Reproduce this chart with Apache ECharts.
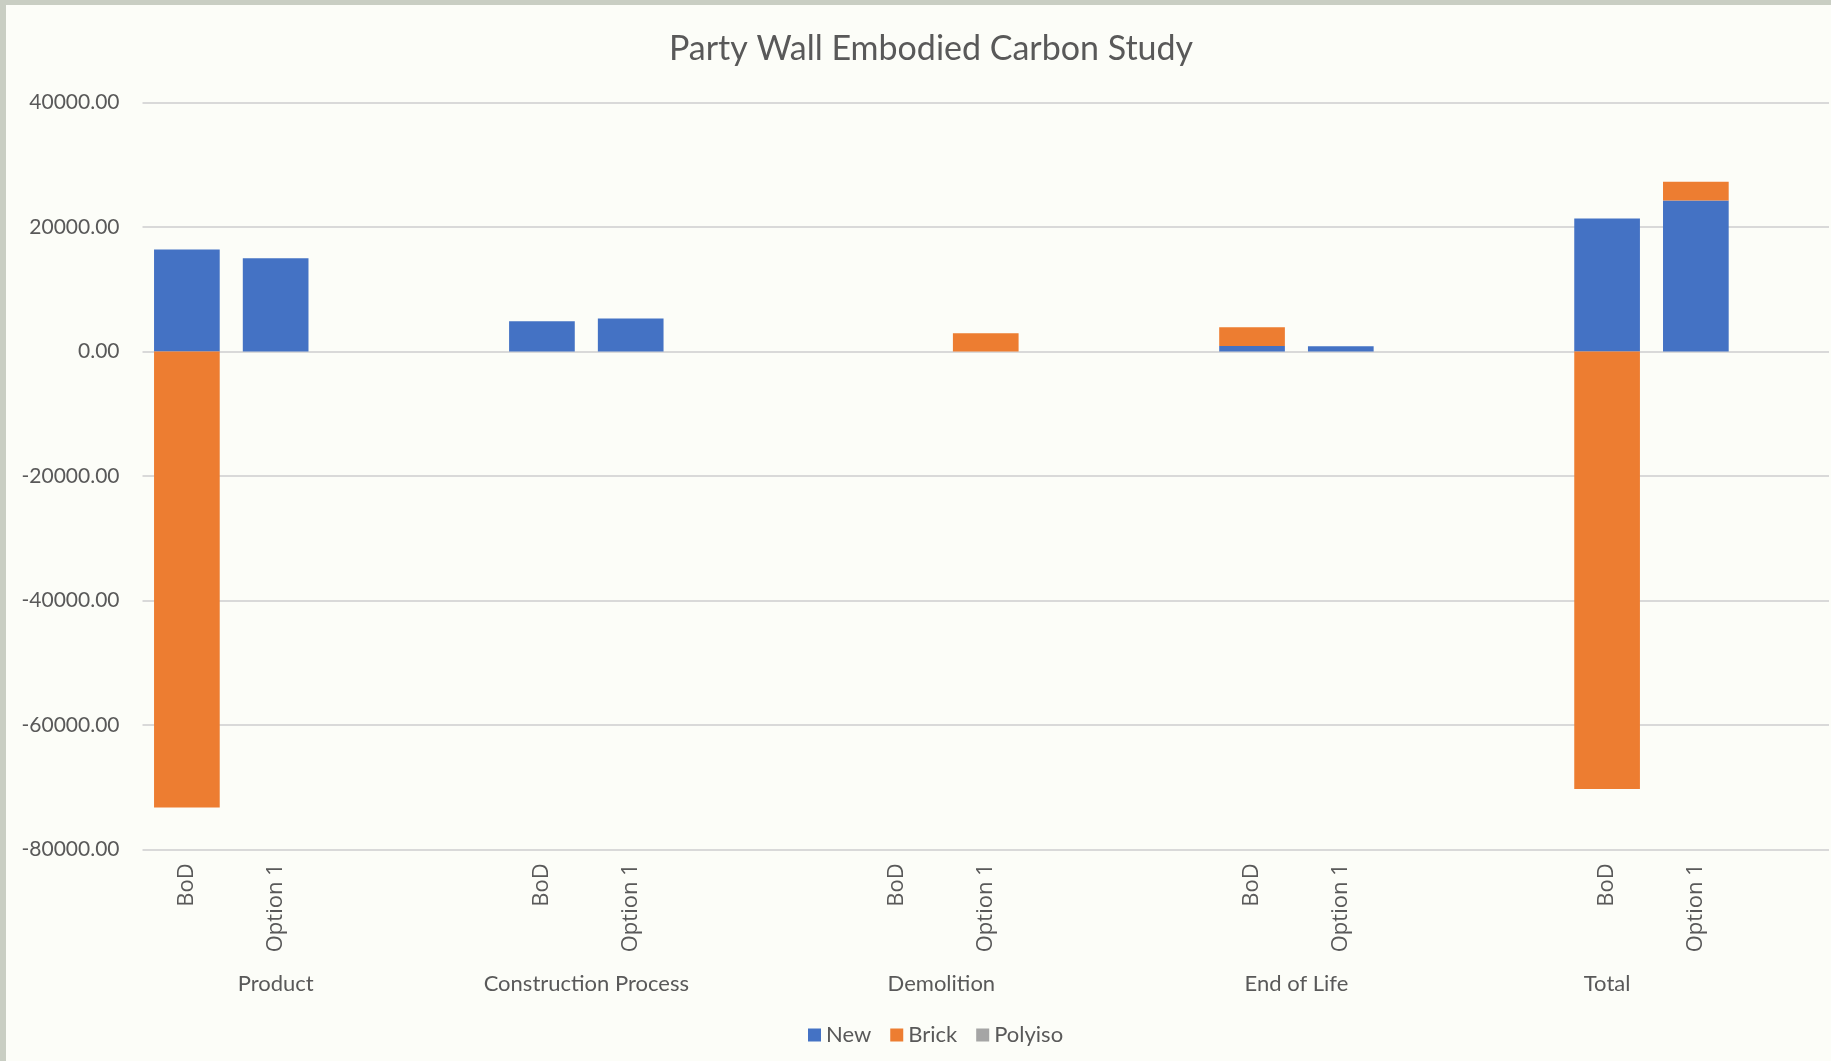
<!DOCTYPE html>
<html>
<head>
<meta charset="utf-8">
<script src="https://cdn.jsdelivr.net/npm/echarts@6/dist/echarts.min.js"></script>
<style>
  html, body { margin: 0; padding: 0; background: #cbd0c5; }
  #chart {
    position: absolute; left: 0; top: 0;
    width: 1831px; height: 1061px;
    box-sizing: border-box;
    border-left: 6px solid #c9cec3;
    border-top: 5px solid #c9cec3;
    background: #fcfdf8;
  }
</style>
</head>
<body>
<div id="chart"></div>
<script>
// ---- Data ----
const titleText = 'Party Wall Embodied Carbon Study';
const subLabels = ['BoD', 'Option 1', '', '', 'BoD', 'Option 1', '', '', 'BoD', 'Option 1', '', '', 'BoD', 'Option 1', '', '', 'BoD', 'Option 1', ''];
const groupLabels = ['Product', 'Construction Process', 'Demolition', 'End of Life', 'Total'];
const groupSpans = [3, 4, 4, 4, 3];
const newValues     = [16400, 15000, null, null, 4870, 5300, null, null, 0, 0, null, null, 900, 850, null, null, 21400, 24300, null];
const brickValues   = [-73300, 0, null, null, 0, 0, null, null, 0, 2950, null, null, 3000, 0, null, null, -70300, 3000, null];
const polyisoValues = [0, 0, null, null, 0, 0, null, null, 0, 0, null, null, 0, 0, null, null, 0, 0, null];
const yTicks = [-80000, -60000, -40000, -20000, 0, 20000, 40000];

// group label centers in category-slot units
const groupCenters = [];
let start = 0;
groupSpans.forEach(s => { groupCenters.push(start + s / 2); start += s; });

const textColor = '#595959';
const chart = echarts.init(document.getElementById('chart'));
chart.setOption({
  backgroundColor: '#fcfdf8',
  animation: false,
  title: {
    text: titleText,
    left: 920,
    textAlign: 'center',
    top: 22,
    textStyle: { fontFamily: 'Lato', fontSize: 34, fontWeight: 'normal', color: textColor }
  },
  legend: {
    data: ['New', 'Brick', 'Polyiso'],
    left: 797,
    top: 1014,
    itemWidth: 13,
    itemHeight: 13,
    itemGap: 19,
    icon: 'rect',
    textStyle: { fontFamily: 'Lato', fontSize: 22, color: textColor }
  },
  grid: { left: 136.5, right: 2, top: 97.7, bottom: 211.7, containLabel: false },
  xAxis: [
    {
      type: 'category',
      data: subLabels,
      axisLine: { show: false },
      axisTick: { show: false },
      axisLabel: {
        interval: 0, rotate: 90, margin: 14,
        fontFamily: 'Open Sans', fontSize: 22, color: textColor
      }
    },
    {
      type: 'value',
      min: 0,
      max: subLabels.length,
      position: 'bottom',
      axisLine: { show: false },
      axisTick: { show: false },
      splitLine: { show: false },
      axisLabel: {
        customValues: groupCenters,
        margin: 124,
        fontFamily: 'Lato', fontSize: 22, color: textColor,
        formatter: v => {
          const i = groupCenters.findIndex(c => Math.abs(c - v) < 1e-6);
          return i >= 0 ? groupLabels[i] : '';
        }
      }
    }
  ],
  yAxis: {
    type: 'value',
    min: yTicks[0],
    max: yTicks[yTicks.length - 1],
    interval: 20000,
    axisLine: { show: false },
    axisTick: { show: false },
    splitLine: { lineStyle: { color: '#d9d9d9', width: 2 } },
    axisLabel: {
      margin: 23,
      fontFamily: 'Lato', fontSize: 21, color: textColor,
      formatter: v => v.toFixed(2)
    }
  },
  series: [
    { name: 'New', type: 'bar', stack: 'a', data: newValues, itemStyle: { color: '#4472C4' }, barCategoryGap: '26%' },
    { name: 'Brick', type: 'bar', stack: 'a', data: brickValues, itemStyle: { color: '#ED7D31' }, barCategoryGap: '26%' },
    { name: 'Polyiso', type: 'bar', stack: 'a', data: polyisoValues, itemStyle: { color: '#A5A5A5' }, barCategoryGap: '26%' }
  ]
});
</script>
</body>
</html>
